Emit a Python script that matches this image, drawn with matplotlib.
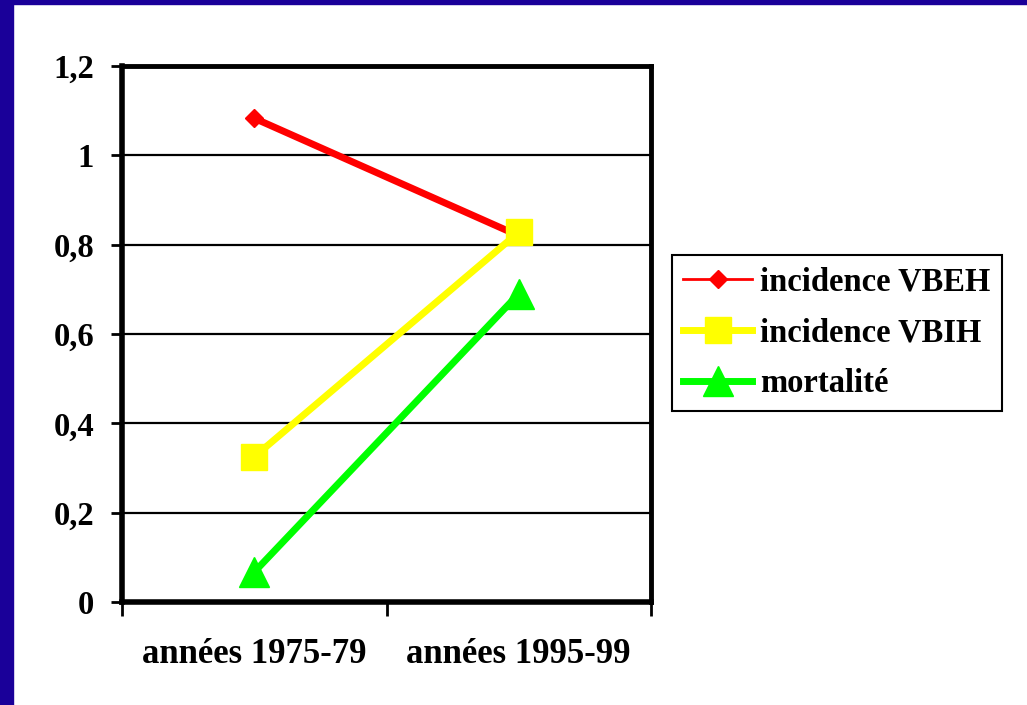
import matplotlib
matplotlib.use('Agg')
import matplotlib.pyplot as plt
from matplotlib.patches import Rectangle

# donnees
periodes = ['années 1975-79', 'années 1995-99']
vbeh = [1.083, 0.82]
vbih = [0.325, 0.828]
mortalite = [0.067, 0.69]
yticks = [0, 0.2, 0.4, 0.6, 0.8, 1, 1.2]
ylabels = ['0', '0,2', '0,4', '0,6', '0,8', '1', '1,2']

plt.rcParams['font.family'] = ['Liberation Serif', 'DejaVu Serif']
plt.rcParams['font.weight'] = 'bold'

fig = plt.figure(figsize=(10.27, 7.05), dpi=100)
fig.patch.set_facecolor('white')
# cadre bleu (gauche + haut)
fig.patches.append(Rectangle((0, 0), 13/1027, 1, transform=fig.transFigure, color='#1a0099', zorder=0))
fig.patches.append(Rectangle((0, 1-3.5/705), 1, 3.5/705, transform=fig.transFigure, color='#1a0099', zorder=0))

ax = fig.add_axes([122/1027, 103/705, 529/1027, 536/705])
x = list(range(len(periodes)))
ax.plot(x, vbeh, color='red', lw=5, marker='D', ms=9, label='incidence VBEH', zorder=3)
ax.plot(x, vbih, color='#ffff00', lw=5, marker='s', ms=19, label='incidence VBIH', zorder=3)
ax.plot(x, mortalite, color='#00ff00', lw=5, marker='^', ms=22, label='mortalité', zorder=3)

ax.set_xlim(-0.5, 1.5)
ax.set_ylim(0, 1.2)
ax.set_yticks(yticks)
ax.set_yticklabels(ylabels, fontsize=23.5, fontweight='bold')
ax.set_xticks(x)
ax.set_xticklabels(periodes, fontsize=25, fontweight='bold')
ax.set_xticks([-0.5, 0.5, 1.5], minor=True)
ax.tick_params(axis='x', which='major', length=0, pad=26)
ax.tick_params(axis='x', which='minor', length=10, width=2, direction='out')
ax.tick_params(axis='y', length=8, width=2, direction='out', pad=12)
for yv in yticks[1:-1]:
    ax.axhline(yv, color='black', lw=1.6, zorder=1)
for s in ax.spines.values():
    s.set_linewidth(3.5)
ax.spines['left'].set_linewidth(4)
ax.spines['bottom'].set_linewidth(4)

leg = ax.legend(loc='center left', bbox_to_anchor=(672/1027, 1-333/705), bbox_transform=fig.transFigure,
                fancybox=False, edgecolor='black', framealpha=1, handlelength=2.1,
                prop={'size': 23.5, 'weight': 'bold'}, borderpad=0.35, labelspacing=0.6,
                handletextpad=0.25, borderaxespad=0)
leg.get_frame().set_linewidth(1.5)
leg.get_lines()[0].set_linewidth(2)

fig.savefig('out.png', dpi=100)
